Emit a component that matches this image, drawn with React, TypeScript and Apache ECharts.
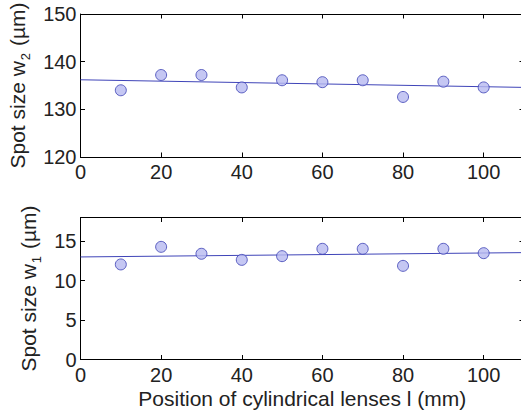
import React, { useEffect, useRef } from "react";
import * as echarts from "echarts";

// Lens positions (mm)
const positions = [10, 20, 30, 40, 50, 60, 70, 80, 90, 100];
// Measured spot sizes (µm)
const spotW2 = [134.0, 137.2, 137.2, 134.6, 136.1, 135.7, 136.1, 132.6, 135.8, 134.6];
const spotW1 = [12.05, 14.28, 13.4, 12.63, 13.1, 14.03, 14.03, 11.87, 14.03, 13.48];
// Linear fit end points [position, size]
const fitW2 = [[0, 136.2], [110, 134.6]];
const fitW1 = [[0, 13.0], [110, 13.55]];

const FONT = "'Liberation Sans', Arial, Helvetica, sans-serif";
const TICK_FS = 20;
const NAME_FS = 21;
const TEXT_COLOR = "#222";
const MARK_FILL = "#b6b9f0";
const MARK_EDGE = "#3b40b4";
const LINE_COLOR = "#3f44b8";

// the plot box runs a few pixels past the right edge of the page
const grids = [
  { left: 80.5, width: 443.5, top: 14, height: 143, outerBoundsMode: "none" },
  { left: 80.5, width: 443.5, top: 217.5, height: 142, outerBoundsMode: "none" },
];

function xAxes(gridIndex: number, showName: boolean) {
  const common = {
    gridIndex,
    type: "value" as const,
    min: 0,
    max: 110,
    interval: 20,
    splitLine: { show: false },
    axisLine: { show: true, onZero: false, lineStyle: { color: "#000", width: 1 } },
    axisTick: { show: true, inside: true, length: 4.5, lineStyle: { color: "#000" } },
  };
  return [
    {
      ...common,
      position: "bottom",
      axisLabel: {
        show: true,
        showMaxLabel: false,
        margin: 5,
        fontFamily: FONT,
        fontSize: TICK_FS,
        color: TEXT_COLOR,
      },
      name: showName ? "Position of cylindrical lenses l (mm)" : "",
      nameLocation: "middle",
      nameGap: 28,
      nameTextStyle: { fontFamily: FONT, fontSize: NAME_FS, color: TEXT_COLOR },
    },
    { ...common, position: "top", axisLabel: { show: false } },
  ];
}

function yAxes(
  gridIndex: number,
  min: number,
  max: number,
  interval: number,
  sub: string,
  gap: number
) {
  const common = {
    gridIndex,
    type: "value" as const,
    min,
    max,
    interval,
    splitLine: { show: false },
    axisLine: { show: true, onZero: false, lineStyle: { color: "#000", width: 1 } },
    axisTick: { show: true, inside: true, length: 4.5, lineStyle: { color: "#000" } },
  };
  return [
    {
      ...common,
      position: "left",
      axisLabel: {
        show: true,
        showMaxLabel: max % interval === 0,
        margin: 4,
        fontFamily: FONT,
        fontSize: TICK_FS,
        color: TEXT_COLOR,
      },
      name: `{t|Spot size w}{s|${sub}}{t| (µm)}`,
      nameLocation: "middle",
      nameRotate: 90,
      nameGap: gap,
      nameTextStyle: {
        fontFamily: FONT,
        fontSize: NAME_FS,
        color: TEXT_COLOR,
        rich: {
          t: { fontFamily: FONT, fontSize: NAME_FS, color: TEXT_COLOR, verticalAlign: "bottom" },
          s: {
            fontFamily: FONT,
            fontSize: 13,
            color: TEXT_COLOR,
            verticalAlign: "bottom",
            padding: [0, 1, -4, 1],
          },
        },
      },
    },
    { ...common, position: "right", axisLabel: { show: false } },
  ];
}

function scatter(xAxisIndex: number, yAxisIndex: number, values: number[]) {
  return {
    type: "scatter",
    xAxisIndex,
    yAxisIndex,
    data: positions.map((p, i) => [p, values[i]]),
    symbol: "circle",
    symbolSize: 11,
    itemStyle: { color: MARK_FILL, borderColor: MARK_EDGE, borderWidth: 1 },
    z: 3,
  };
}

function fit(xAxisIndex: number, yAxisIndex: number, pts: number[][]) {
  return {
    type: "line",
    xAxisIndex,
    yAxisIndex,
    data: pts,
    showSymbol: false,
    symbol: "none",
    lineStyle: { color: LINE_COLOR, width: 1 },
    z: 2,
  };
}

export default function App() {
  const ref = useRef<HTMLDivElement>(null);

  useEffect(() => {
    if (!ref.current) return;
    const chart = echarts.init(ref.current, undefined, { renderer: "svg" });
    chart.setOption({
      animation: false,
      backgroundColor: "#fff",
      grid: grids,
      xAxis: [...xAxes(0, false), ...xAxes(1, true)],
      yAxis: [...yAxes(0, 120, 150, 10, "2", 48), ...yAxes(1, 0, 18, 5, "1", 37)],
      series: [
        fit(0, 0, fitW2),
        scatter(0, 0, spotW2),
        fit(2, 2, fitW1),
        scatter(2, 2, spotW1),
      ],
    });
    return () => chart.dispose();
  }, []);

  return (
    <div
      ref={ref}
      style={{ position: "fixed", left: 0, top: 0, width: 521, height: 415 }}
    />
  );
}
